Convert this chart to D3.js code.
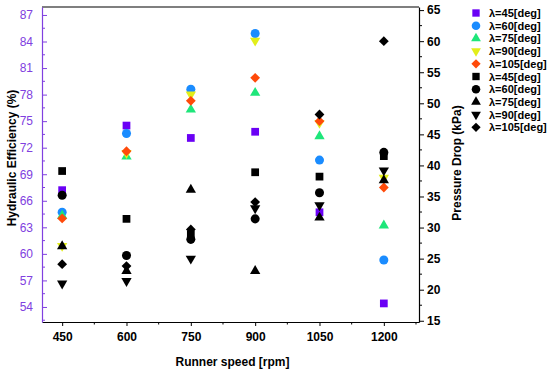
<!DOCTYPE html>
<html>
<head>
<meta charset="utf-8">
<script src="https://cdn.jsdelivr.net/npm/d3@7"></script>
<style>
  body { margin: 0; background: #fff; }
  svg { font-family: Arial, "Liberation Sans", sans-serif; }
</style>
</head>
<body>
<div id="chart"></div>
<script>
// runner speeds (x) and blade angles
const speeds = [450, 600, 750, 900, 1050, 1200];
const lambdas = ["45", "60", "75", "90", "105"];

// hydraulic efficiency (%) - left axis
const eff45 = [67.2, 74.5, 73.1, 73.8, 64.7, 54.4];
const eff60 = [64.7, 73.6, 78.6, 84.9, 70.6, 59.3];
const eff75 = [64.3, 71.0, 76.3, 78.2, 73.3, 63.2];
const eff90 = [60.9, 71.4, 78.0, 84.1, 74.8, 68.6];
const eff105 = [64.0, 71.6, 77.3, 79.9, 75.0, 67.5];

// pressure drop (kPa) - right axis
const dp45 = [39.1, 31.4, 28.9, 38.9, 38.2, 41.5];
const dp60 = [35.2, 25.5, 28.1, 31.4, 35.6, 42.1];
const dp75 = [27.0, 23.0, 36.1, 23.0, 31.6, 37.6];
const dp90 = [21.0, 21.4, 25.0, 33.1, 33.6, 39.2];
const dp105 = [24.1, 23.8, 29.7, 34.1, 48.2, 60.0];

const xTicks = [450, 600, 750, 900, 1050, 1200];
const leftTicks = [54, 57, 60, 63, 66, 69, 72, 75, 78, 81, 84, 87];
const rightTicks = [15, 20, 25, 30, 35, 40, 45, 50, 55, 60, 65];

const width = 550, height = 375;
const plot = { left: 42, right: 419, top: 7, bottom: 322 };
const purple = "#8040e0";

const svg = d3.select("#chart").append("svg")
  .attr("width", width)
  .attr("height", height);

const x = d3.scaleLinear().domain([403, 1282]).range([plot.left, plot.right]);
const yL = d3.scaleLinear().domain([52.3, 87.9]).range([plot.bottom, plot.top]);
const yR = d3.scaleLinear().domain([14.8, 65.5]).range([plot.bottom, plot.top]);

// marker shapes
const shapes = {
  square: { type: d3.symbolSquare, size: 60, rot: 0 },
  circle: { type: d3.symbolCircle, size: 64, rot: 0 },
  tri: { type: d3.symbolTriangle, size: 46, rot: 0 },
  inv: { type: d3.symbolTriangle, size: 46, rot: 180 },
  diamond: { type: d3.symbolSquare, size: 48, rot: 45 }
};
const shapeOrder = ["square", "circle", "tri", "inv", "diamond"];

const effSeries = [eff45, eff60, eff75, eff90, eff105];
const dpSeries = [dp45, dp60, dp75, dp90, dp105];
const colors = ["#6a00f5", "#1a8cff", "#1ee67a", "#e2ee1a", "#ff4a0a"];

const series = [];
effSeries.forEach((vals, i) => {
  series.push({ label: "λ=" + lambdas[i] + "[deg]", values: vals, axis: yL, color: colors[i], shape: shapeOrder[i] });
});
dpSeries.forEach((vals, i) => {
  series.push({ label: "λ=" + lambdas[i] + "[deg]", values: vals, axis: yR, color: "#000", shape: shapeOrder[i] });
});

function symbolPath(name, scale) {
  const s = shapes[name];
  return d3.symbol().type(s.type).size(s.size * (scale || 1))();
}

// frame top line
svg.append("line")
  .attr("x1", plot.left).attr("x2", plot.right)
  .attr("y1", plot.top).attr("y2", plot.top)
  .attr("stroke", "#000").attr("stroke-width", 1.2);

// bottom axis
const xAxis = svg.append("g")
  .attr("transform", "translate(0," + plot.bottom + ")")
  .call(d3.axisBottom(x).tickValues(xTicks).tickFormat(d3.format("d")).tickSize(4).tickSizeOuter(0));
xAxis.append("g").selectAll("line")
  .data(d3.range(525, 1281, 150))
  .join("line")
  .attr("x1", (d) => x(d)).attr("x2", (d) => x(d))
  .attr("y1", 0).attr("y2", 2.5)
  .attr("stroke", "#000");
xAxis.select(".domain").attr("stroke-width", 1.2);
xAxis.selectAll("text")
  .attr("dy", "1em")
  .style("font-size", "12px")
  .style("font-weight", "bold")
  .attr("fill", "#000");

// left axis (ticks inside, purple)
const leftAxis = svg.append("g")
  .attr("transform", "translate(" + plot.left + ",0)")
  .call(d3.axisLeft(yL).tickValues(leftTicks).tickSize(-5).tickSizeOuter(0).tickPadding(9));
leftAxis.append("g").selectAll("line")
  .data(d3.range(52.5, 88, 1.5).filter((d) => leftTicks.indexOf(d) < 0))
  .join("line")
  .attr("x1", 0).attr("x2", 3)
  .attr("y1", (d) => yL(d)).attr("y2", (d) => yL(d));
leftAxis.selectAll("line").attr("stroke", purple);
leftAxis.select(".domain").attr("stroke", purple).attr("stroke-width", 1.2);
leftAxis.selectAll("text")
  .style("font-size", "12px")
  .attr("fill", purple);

// right axis
const rightAxis = svg.append("g")
  .attr("transform", "translate(" + plot.right + ",0)")
  .call(d3.axisRight(yR).tickValues(rightTicks).tickSize(5).tickSizeOuter(0));
rightAxis.append("g").selectAll("line")
  .data(d3.range(17.5, 65, 5))
  .join("line")
  .attr("x1", 0).attr("x2", 3)
  .attr("y1", (d) => yR(d)).attr("y2", (d) => yR(d))
  .attr("stroke", "#000");
rightAxis.select(".domain").attr("stroke-width", 1.2);
rightAxis.selectAll("text")
  .style("font-size", "12px")
  .style("font-weight", "bold")
  .attr("fill", "#000");

// axis titles
svg.append("text")
  .attr("x", (plot.left + plot.right) / 2 + 2)
  .attr("y", 366)
  .attr("text-anchor", "middle")
  .style("font-size", "12px")
  .style("font-weight", "bold")
  .text("Runner speed [rpm]");

svg.append("text")
  .attr("transform", "translate(16,158) rotate(-90)")
  .attr("text-anchor", "middle")
  .style("font-size", "12px")
  .style("font-weight", "bold")
  .text("Hydraulic Efficiency (%)");

svg.append("text")
  .attr("transform", "translate(461,163) rotate(-90)")
  .attr("text-anchor", "middle")
  .style("font-size", "12px")
  .style("font-weight", "bold")
  .text("Pressure Drop (kPa)");

// markers
const marks = svg.append("g");
series.forEach((s) => {
  marks.append("g").selectAll("path")
    .data(s.values.map((v, i) => ({ x: speeds[i], y: v })))
    .join("path")
    .attr("d", symbolPath(s.shape))
    .attr("transform", (d) => "translate(" + x(d.x) + "," + s.axis(d.y) + ") rotate(" + shapes[s.shape].rot + ")")
    .attr("fill", s.color);
});

// legend
const legend = svg.append("g").attr("transform", "translate(476,13)");
series.forEach((s, i) => {
  const row = legend.append("g").attr("transform", "translate(0," + i * 12.7 + ")");
  row.append("path")
    .attr("d", symbolPath(s.shape, 0.9))
    .attr("transform", "rotate(" + shapes[s.shape].rot + ")")
    .attr("fill", s.color);
  row.append("text")
    .attr("x", 13)
    .attr("y", 4)
    .style("font-size", "11px")
    .style("font-weight", "bold")
    .text(s.label);
});
</script>
</body>
</html>
